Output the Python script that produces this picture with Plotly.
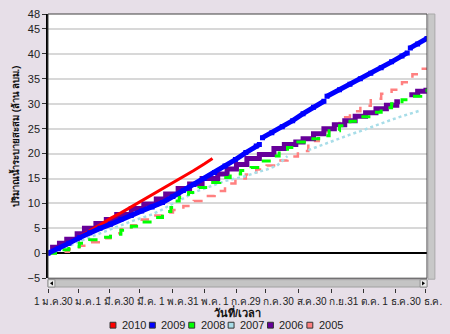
import plotly.graph_objects as go

# ---- data (day of year, cumulative volume) ----
YEARS = ["2010", "2009", "2008", "2007", "2006", "2005"]
COLORS = ["#FF0000", "#0000FF", "#00FF00", "#A8DDE8", "#660099", "#FF8080"]

D2010 = [0, 10, 20, 30, 40, 50, 60, 70, 80, 90, 100, 110, 120, 130, 140, 150, 158]
V2010 = [0, 1.0, 2.2, 3.3, 4.5, 5.7, 7.0, 8.1, 9.3, 10.6, 11.8, 12.9, 14.1, 15.3, 16.6, 17.9, 19.0]

D2009 = [0, 10, 20, 30, 40, 50, 60, 70, 80, 90, 100, 110, 120, 130, 140, 150, 160, 170, 180, 190, 200, 203,
         204, 206, 215, 225, 235, 245, 255, 265, 266, 268, 280, 290, 300, 310, 320, 330, 340, 345,
         346, 348, 355, 364]
V2009 = [0, 0.9, 2.0, 3.1, 4.1, 5.0, 5.8, 6.8, 7.6, 8.5, 9.3, 10.2, 11.4, 12.6, 13.8, 15.0, 16.2, 17.5, 18.8, 20.2, 21.5, 21.8,
         None, 23.2, 24.2, 25.4, 26.6, 28.0, 29.3, 30.5, None, 31.5, 32.8, 33.9, 35.0, 36.1, 37.2, 38.4, 39.6, 40.2,
         None, 41.2, 42.0, 43.1]

D2008 = [0, 10, 20, 30, 40, 50, 60, 70, 80, 90, 100, 110, 118, 122, 126, 135, 145, 155, 165, 175, 185, 195, 205,
         215, 222, 230, 240, 250, 260, 270, 280, 290, 300, 310, 320, 330, 340, 350, 358, 364]
V2008 = [0, 0.7, 1.3, 2.0, 2.7, 3.2, 3.8, 4.6, 5.4, 6.3, 7.2, 8.4, 9.2, 10.5, 11.2, 12.2, 13.2, 14.2, 15.2, 15.9,
         16.6, 17.2, 18.5, 19.5, 20.5, 21.2, 22.3, 23.0, 23.6, 24.6, 25.6, 26.5, 27.4, 28.3, 29.2, 30.0, 30.8,
         31.5, 32.3, 33.0]

D2007 = [0, 20, 40, 60, 80, 100, 110, 120, 130, 140, 150, 160, 170, 180, 190, 200, 210, 220, 230, 240,
         250, 260, 270, 280, 290, 300, 310, 320, 330, 340, 350, 357]
V2007 = [0, 1.5, 3.2, 4.8, 6.4, 7.8, 8.8, 10.0, 11.0, 12.2, 13.0, 13.8, 14.5, 15.0, 15.5, 16.2, 16.8, 17.6, 19.5, None,
         20.7, 21.5, 22.3, 23.0, 23.8, 24.5, 25.3, 26.0, 26.8, 27.5, 28.2, 28.6]

D2006 = [2, 11, 18, 28, 35, 46, 56, 66, 80, 92, 104, 113, 125, 136, 148, 163, 172, 181, 191, 203, 217, 227,
         238, 245, 255, 265, 275, 285, 295, 305, 315, 325, 335, 338, 342, 347, 355, 363]
V2006 = [1.2, 2.0, 2.8, 3.9, 5.0, 6.0, 6.8, 7.8, 9.0, 9.9, 10.9, 11.9, 13.0, 13.9, 15.0, 15.9, 16.9, 17.8, 19.0,
         19.8, 21.0, 21.8, 22.3, 23.0, 24.0, 25.0, 25.8, 26.6, 27.5, 28.2, 29.0, 29.7, 30.4, 30.4, None,
         31.8, 32.5, 33.2]

D2005 = [0, 10, 20, 30, 40, 50, 60, 70, 80, 90, 100, 110, 120, 130, 140, 150, 160, 170, 180, 190, 200, 210,
         220, 230, 240, 250, 260, 270, 280, 290, 300, 310, 320, 330, 340, 350, 358, 364]
V2005 = [0, 0.3, 0.8, 1.5, 2.2, 3.0, 4.0, 4.8, 5.6, 6.8, 7.6, 8.2, 8.7, 9.5, 10.5, 11.5, 12.5, 14.0, 15.0, 15.8,
         16.8, 17.6, 18.6, 19.4, 20.5, 22.5, 24.5, 25.8, 27.3, 28.5, 29.6, 31.0, 32.0, 32.8, 34.3, 35.9, 37.0, 37.2]

TICK_DAYS = [0, 29, 59, 88, 120, 150, 181, 209, 241, 272, 303, 334, 363]
TICK_TEXT = ["1 ม.ค.", "30 ม.ค.", "1 มี.ค.", "30 มี.ค.", "1 พ.ค.", "31 พ.ค.", "1 ก.ค.", "29 ก.ค.",
             "30 ส.ค.", "30 ก.ย.", "31 ต.ค.", "1 ธ.ค.", "30 ธ.ค."]
Y_TICKS = [-5, 0, 5, 10, 15, 20, 25, 30, 35, 40, 45, 48]

X_TITLE = "วันที่/เวลา"
Y_TITLE = "ปริมาณน้ำระบายสะสม (ล้าน ลบม.)"

FONT = "Tahoma, 'Liberation Sans', Arial, 'DejaVu Sans', sans-serif"
BG = "#E7DFE8"


def segments(xs, ys):
    """Split a series at missing values into continuous pieces."""
    out, cx, cy = [], [], []
    for x, y in zip(xs, ys):
        if y is None:
            if cx:
                out.append((cx, cy))
            cx, cy = [], []
        else:
            cx.append(x)
            cy.append(y)
    if cx:
        out.append((cx, cy))
    return out


# ---- figure ----
fig = go.Figure()
series = {
    "2005": (D2005, V2005, dict(width=2.5, dash="dash", shape="hv"), None),
    "2006": (D2006, V2006, dict(width=5, dash="solid", shape="hv"), None),
    "2007": (D2007, V2007, dict(width=2.5, dash="dot", shape="linear"), None),
    "2008": (D2008, V2008, dict(width=3, dash="dash", shape="hv"), None),
    "2010": (D2010, V2010, dict(width=3, dash="solid", shape="linear"), None),
    "2009": (D2009, V2009, dict(width=5, dash="solid", shape="linear"), dict(symbol="square", size=5)),
}
for yr in ["2005", "2006", "2007", "2008", "2010", "2009"]:
    xs, ys, ln, mk = series[yr]
    col = COLORS[YEARS.index(yr)]
    for sx, sy in segments(xs, ys):
        if mk:
            fig.add_trace(go.Scatter(x=sx, y=sy, mode="lines+markers", line=dict(color=col, **ln),
                                     marker=dict(color=col, line=dict(width=0), **mk),
                                     showlegend=False, name=yr, hoverinfo="skip"))
        else:
            fig.add_trace(go.Scatter(x=sx, y=sy, mode="lines", line=dict(color=col, **ln),
                                     showlegend=False, name=yr, hoverinfo="skip"))

# plot geometry in pixels
L, R, T, B_PLOT, B_AXIS = 48, 433, 8, 278, 288
W, H = 450, 334
PW = R - L
PH = B_AXIS - T


def px_x(p):
    return (p - L) / PW


def px_y(p):
    return (B_AXIS - p) / PH


fig.update_layout(
    width=W, height=H,
    margin=dict(l=L, r=W - R, t=T, b=H - B_AXIS),
    paper_bgcolor=BG, plot_bgcolor="white",
    font=dict(family=FONT, size=11, color="#222222"),
    xaxis=dict(range=[0, 364], anchor="free", position=0, tickmode="array",
               tickvals=TICK_DAYS, ticktext=TICK_TEXT, ticks="outside", ticklen=4,
               tickcolor="#333333", showgrid=False, zeroline=False, showline=False,
               tickangle=0, tickfont=dict(size=10, color="#222222")),
    yaxis=dict(range=[-5, 48], domain=[px_y(B_PLOT), 1], tickmode="array", tickvals=Y_TICKS,
               ticks="outside", ticklen=4, tickcolor="#333333", showgrid=True,
               gridcolor="#D8D8D8", gridwidth=2, zeroline=True, zerolinecolor="#000000",
               zerolinewidth=1.5, showline=True, linecolor="#000000", linewidth=1.5,
               tickfont=dict(size=11, color="#222222"), layer="below traces"),
)

shapes = []
# plot frame
shapes.append(dict(type="rect", xref="paper", yref="paper", x0=0, x1=1, y0=px_y(B_PLOT), y1=1,
                   line=dict(color="#404040", width=1), layer="above"))
# horizontal scrollbar
shapes.append(dict(type="rect", xref="paper", yref="paper", x0=px_x(48), x1=px_x(433),
                   y0=px_y(287), y1=px_y(279.5), fillcolor="#C4C4C4", line=dict(color="#A0A0A0", width=1)))
shapes.append(dict(type="rect", xref="paper", yref="paper", x0=px_x(48), x1=px_x(55),
                   y0=px_y(287), y1=px_y(279.5), fillcolor="#ECECEC", line=dict(color="#909090", width=1)))
shapes.append(dict(type="rect", xref="paper", yref="paper", x0=px_x(426), x1=px_x(433),
                   y0=px_y(287), y1=px_y(279.5), fillcolor="#ECECEC", line=dict(color="#909090", width=1)))
shapes.append(dict(type="path", xref="paper", yref="paper",
                   path=f"M {px_x(50)} {px_y(283.2)} L {px_x(53)} {px_y(281)} L {px_x(53)} {px_y(285.5)} Z",
                   fillcolor="#000000", line=dict(width=0)))
shapes.append(dict(type="path", xref="paper", yref="paper",
                   path=f"M {px_x(431)} {px_y(283.2)} L {px_x(428)} {px_y(281)} L {px_x(428)} {px_y(285.5)} Z",
                   fillcolor="#000000", line=dict(width=0)))
# vertical scrollbar
shapes.append(dict(type="rect", xref="paper", yref="paper", x0=px_x(434), x1=px_x(441),
                   y0=px_y(279), y1=1, fillcolor="#C8C8C8", line=dict(color="#A8A8A8", width=1)))

annotations = [
    dict(text=f"<b>{X_TITLE}</b>", xref="paper", yref="paper", x=0.5, y=px_y(313),
         yanchor="middle", showarrow=False, font=dict(size=11, color="#111111")),
    dict(text=f"<b>{Y_TITLE}</b>", xref="paper", yref="paper", x=px_x(14), y=px_y(133),
         xanchor="center", yanchor="middle",
         textangle=-90, showarrow=False, font=dict(size=9.5, color="#111111")),
]

# legend (manual, bottom row)
LEG_Y = 326
for i, yr in enumerate(YEARS):
    x0 = 111 + 40 * i
    shapes.append(dict(type="rect", xref="paper", yref="paper", x0=px_x(x0), x1=px_x(x0 + 6),
                       y0=px_y(LEG_Y + 3), y1=px_y(LEG_Y - 3), fillcolor=COLORS[i],
                       line=dict(color="#333333", width=1)))
    annotations.append(dict(text=yr, xref="paper", yref="paper", x=px_x(x0 + 10), y=px_y(LEG_Y),
                            xanchor="left", yanchor="middle", showarrow=False,
                            font=dict(size=11, color="#222222")))

fig.update_layout(shapes=shapes, annotations=annotations)
fig.write_html("out.html")
